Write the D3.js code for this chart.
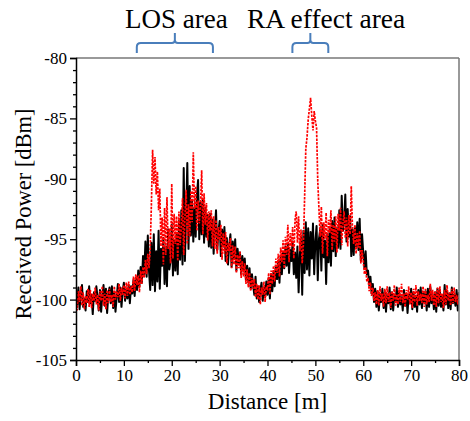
<!DOCTYPE html>
<html><head><meta charset="utf-8">
<script src="https://cdn.jsdelivr.net/npm/d3@7/dist/d3.min.js"></script>
<style>body{margin:0;background:#fff}</style>
</head><body><svg id="c" width="470" height="421"></svg>
<script>
const distanceStep = 0.25;
const blackSeries = [
-99.2,-100.4,-99.0,-100.8, -99.5,-98.8,-100.6,-99.9, -100.9,-99.3,-100.2,-98.9, -100.3,-99.6,-101.2,-99.4,
-100.1,-98.9,-99.8,-100.9, -99.2,-101.0,-99.7,-98.8, -100.5,-99.1,-101.1,-99.6, -99.0,-100.3,-98.9,-100.7,
-99.4,-101.0,-99.8,-98.7, -100.2,-99.0,-100.6,-99.3, -98.6,-100.1,-99.2,-99.9, -98.8,-100.3,-98.9,-99.5,
-98.4,-99.7,-98.2,-99.2, -97.6,-98.9,-97.3,-98.6, -96.4,-97.9,-95.2,-98.1, -94.7,-97.6,-99.2,-95.3,
-98.8,-94.6,-99.3,-96.0, -98.5,-94.3,-99.1,-95.8, -97.2,-94.9,-98.7,-95.6, -98.9,-94.2,-97.5,-96.8,
-93.8,-98.0,-95.1,-97.6, -94.6,-97.9,-93.5,-96.7, -92.6,-97.1,-89.1,-96.8, -93.0,-88.7,-95.8,-90.6,
-94.7,-91.9,-95.2,-92.4, -94.8,-91.4,-90.1,-95.0, -92.0,-94.6,-91.7,-95.3, -92.4,-94.8,-93.0,-95.6,
-92.9,-95.7,-93.4,-96.2, -94.1,-92.6,-95.9,-94.4, -93.5,-96.4,-94.2,-95.6, -94.0,-96.8,-94.9,-97.1,
-95.5,-94.6,-97.3,-95.2, -96.6,-95.0,-97.6,-95.8, -97.0,-96.1,-97.9,-96.4, -97.5,-96.6,-98.4,-97.2,
-98.6,-97.4,-99.1,-97.9, -98.8,-99.6,-98.1,-99.9, -98.9,-100.2,-99.3,-98.6, -100.1,-99.0,-99.8,-98.5,
-99.6,-98.2,-99.9,-97.9, -99.3,-97.7,-98.9,-97.2, -98.3,-96.8,-98.6,-96.4, -97.9,-96.1,-97.4,-95.6,
-97.2,-95.4,-97.8,-95.9, -96.8,-95.2,-97.9,-96.1, -98.2,-95.6,-99.4,-96.3, -94.8,-99.6,-94.3,-97.8,
-93.6,-97.5,-94.1,-98.0, -94.4,-96.6,-93.7,-97.9, -95.2,-93.9,-98.4,-95.0, -94.2,-97.6,-93.8,-96.5,
-95.1,-98.7,-94.6,-96.9, -94.0,-97.2,-93.5,-96.0, -93.2,-96.4,-94.1,-95.7, -92.6,-95.8,-91.4,-94.3,
-93.6,-91.3,-95.2,-92.5, -94.8,-93.1,-96.4,-94.2, -96.3,-94.0,-95.6,-93.6, -95.9,-93.3,-96.8,-94.6,
-96.1,-97.4,-96.0,-97.9, -97.6,-98.8,-98.1,-99.5, -98.7,-100.2,-99.1,-100.6, -99.3,-100.9,-99.6,-100.2,
-99.1,-100.7,-99.4,-101.0, -99.6,-100.3,-99.0,-100.8, -99.4,-100.9,-99.7,-100.1, -99.0,-100.6,-99.3,-100.4,
-99.8,-100.9,-99.2,-100.5, -99.5,-101.1,-99.6,-100.3, -99.1,-100.8,-99.4,-100.6, -99.7,-101.0,-99.2,-100.4,
-99.0,-100.7,-99.5,-100.2, -99.3,-100.9,-99.1,-100.6, -98.9,-100.3,-99.6,-100.8, -99.4,-101.0,-99.1,-100.5,
-99.2,-100.6,-99.7,-100.9, -98.8,-100.4,-99.3,-100.7, -99.5,-100.8,-99.0,-100.3, -99.6,-100.5,-99.2,-100.9,
-99.4];
const redSeries = [
-99.6,-100.9,-99.3,-100.2, -98.9,-100.5,-99.4,-100.8, -99.7,-100.3,-99.1,-100.6, -99.2,-100.7,-99.5,-100.1,
-99.0,-100.4,-99.6,-100.9, -99.3,-100.1,-98.9,-100.5, -99.5,-100.8,-99.2,-100.3, -99.1,-100.2,-99.6,-100.6,
-98.9,-100.0,-99.3,-99.8, -98.7,-100.1,-99.0,-99.6, -98.8,-99.9,-98.6,-99.7, -98.5,-99.6,-98.9,-99.4,
-98.1,-99.3,-97.9,-98.8, -98.0,-99.4,-97.6,-98.7, -97.3,-98.2,-96.7,-97.9, -96.2,-97.4,-95.8,-92.1,
-87.6,-90.4,-88.2,-91.3, -89.4,-92.6,-90.8,-95.6, -93.2,-97.1,-92.4,-96.3, -91.5,-95.8,-94.1,-97.0,
-90.4,-96.6,-92.9,-95.4, -93.1,-96.8,-92.7,-95.5, -94.0,-91.6,-96.3,-93.2, -90.9,-95.4,-92.1,-94.8,
-91.0,-93.6,-87.8,-92.5, -90.6,-94.3,-91.8,-93.7, -92.3,-89.3,-94.6,-91.2, -93.8,-92.0,-95.1,-92.7,
-94.3,-92.6,-95.6,-93.1, -95.8,-93.4,-96.2,-94.0, -95.1,-93.8,-96.7,-94.5, -96.2,-94.4,-97.0,-95.3,
-96.0,-94.9,-97.4,-95.5, -97.1,-95.6,-97.8,-96.3, -97.4,-96.0,-98.2,-96.8, -98.1,-97.0,-98.7,-97.5,
-99.0,-97.8,-99.3,-98.2, -99.1,-98.3,-99.8,-98.7, -100.0,-98.8,-100.4,-99.0, -99.6,-98.5,-100.2,-98.9,
-99.1,-97.8,-99.6,-97.6, -98.7,-97.2,-98.5,-96.6, -97.8,-96.2,-98.1,-95.7, -96.9,-95.1,-97.4,-94.8,
-96.3,-93.8,-96.9,-94.5, -95.6,-94.0,-96.6,-93.4, -92.7,-95.3,-93.1,-96.0, -94.2,-97.0,-95.4,-91.6,
-87.5,-86.6,-85.1,-84.2, -83.3,-84.8,-86.0,-84.4, -85.2,-85.8,-90.2,-92.5, -94.8,-92.3,-96.2,-93.6,
-95.0,-92.8,-96.4,-93.4, -94.5,-92.6,-95.9,-93.8, -95.2,-93.1,-96.1,-92.9, -94.3,-92.4,-95.5,-93.7,
-92.7,-94.9,-93.2,-95.6, -93.0,-94.6,-90.6,-94.1, -95.4,-93.8,-96.2,-94.5, -95.7,-94.3,-97.0,-95.9,
-96.8,-97.9,-97.3,-98.5, -98.2,-99.3,-98.6,-99.7, -99.0,-100.1,-99.4,-100.4, -99.2,-100.5,-98.9,-100.1,
-99.5,-100.6,-99.1,-100.3, -98.9,-100.2,-99.4,-100.7, -99.3,-100.1,-98.8,-100.5, -99.6,-100.4,-99.0,-100.2,
-98.7,-100.3,-99.5,-100.6, -99.2,-100.0,-98.9,-100.4, -99.4,-100.7,-99.1,-100.2, -98.8,-100.5,-99.3,-100.1,
-99.5,-100.3,-98.9,-100.6, -99.1,-100.4,-99.6,-100.2, -98.7,-100.1,-99.2,-100.5, -99.3,-100.6,-99.0,-100.3,
-98.9,-100.2,-99.5,-100.7, -99.2,-100.4,-98.8,-100.1, -99.4,-100.5,-99.1,-100.3, -99.0,-100.2,-99.6,-100.4,
-99.5];
const xTicks = [0,10,20,30,40,50,60,70,80];
const yTicks = [-105,-100,-95,-90,-85,-80];
const annotations = [{label:"LOS area", x0:12.7, x1:28.6}, {label:"RA effect area", x0:45.2, x1:52.7}];

const FONT = '"Liberation Serif"';
const L=76, R=459, T=58, B=360;
const svg=d3.select("#c");
const x=d3.scaleLinear().domain([0,80]).range([L,R]);
const y=d3.scaleLinear().domain([-105,-80]).range([B,T]);

const distances = blackSeries.map((_,i)=>i*distanceStep);

svg.append("defs").append("clipPath").attr("id","clip").append("rect")
  .attr("x",L).attr("y",T).attr("width",R-L).attr("height",B-T);

const line=d3.line().x((d,i)=>x(distances[i])).y(d=>y(d));
const g=svg.append("g").attr("clip-path","url(#clip)");
g.append("path").datum(blackSeries).attr("d",line).attr("fill","none")
  .attr("stroke","#000").attr("stroke-width",2).attr("stroke-linejoin","round");
g.append("path").datum(redSeries).attr("d",line).attr("fill","none")
  .attr("stroke","#ff0000").attr("stroke-width",1.7).attr("stroke-dasharray","2.5,1.2");

svg.append("line").attr("x1",L).attr("x2",R).attr("y1",T).attr("y2",T).attr("stroke","#777").attr("stroke-width",1.5);
svg.append("line").attr("x1",R).attr("x2",R).attr("y1",T).attr("y2",B).attr("stroke","#777").attr("stroke-width",1.5);

const fmt = d=>String(d);
svg.append("g").attr("transform",`translate(${L},0)`)
  .call(d3.axisLeft(y).tickValues(yTicks).tickSize(6).tickPadding(3).tickFormat(fmt));
svg.append("g").attr("transform",`translate(${L},0)`)
  .call(d3.axisLeft(y).tickValues(d3.range(-105,-79,1).filter(v=>v%5!==0)).tickSize(3).tickFormat(""))
  .call(s=>s.select(".domain").remove());
svg.append("g").attr("transform",`translate(0,${B})`)
  .call(d3.axisBottom(x).tickValues(xTicks).tickSize(6).tickPadding(3).tickFormat(fmt));
svg.append("g").attr("transform",`translate(0,${B})`)
  .call(d3.axisBottom(x).tickValues([5,15,25,35,45,55,65,75]).tickSize(3).tickFormat(""))
  .call(s=>s.select(".domain").remove());
svg.selectAll(".domain").attr("stroke","#000").attr("stroke-width",1.5);
svg.selectAll(".tick line").attr("stroke","#000").attr("stroke-width",1.3);
svg.selectAll(".tick text").attr("font-size",17).attr("fill","#000").style("font-family",FONT);

svg.append("text").attr("x",(L+R)/2).attr("y",409).attr("text-anchor","middle")
  .style("font-family",FONT).attr("font-size",23).text("Distance [m]");
svg.append("text").attr("transform",`translate(31,214) rotate(-90)`).attr("text-anchor","middle")
  .style("font-family",FONT).attr("font-size",22.5).text("Received Power [dBm]");

svg.append("text").attr("x",125).attr("y",28).style("font-family",FONT).attr("font-size",27).text(annotations[0].label);
svg.append("text").attr("x",247).attr("y",28).style("font-family",FONT).attr("font-size",27.5).text(annotations[1].label);
annotations.forEach(a=>{
  const x0=x(a.x0), x1=x(a.x1), cx=(x0+x1)/2, yb=53, yh=43, yt=33, r=4;
  const p=`M${x0},${yb} L${x0},${yh+r} Q${x0},${yh} ${x0+r},${yh} L${cx-3},${yh} Q${cx},${yh} ${cx},${yh-3} L${cx},${yt} M${cx},${yh-3} Q${cx},${yh} ${cx+3},${yh} L${x1-r},${yh} Q${x1},${yh} ${x1},${yh+r} L${x1},${yb}`;
  svg.append("path").attr("d",p).attr("fill","none").attr("stroke","#4a7ebb").attr("stroke-width",2);
});
</script></body></html>
